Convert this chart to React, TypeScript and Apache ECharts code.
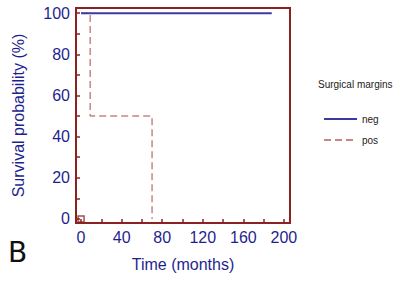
import React, { useEffect, useRef } from "react";
import * as echarts from "echarts";

const negTimes = [0, 188];
const negSurv = [100, 100];
const posTimes = [0, 9, 70];
const posSurv = [100, 50, 0];
const censorPoints = [[0, 0]];
const xLabels = [0, 40, 80, 120, 160, 200];
const xTicks = [0, 20, 40, 60, 80, 100, 120, 140, 160, 180, 200];
const yLabels = [0, 20, 40, 60, 80, 100];
const yTicks = [0, 10, 20, 30, 40, 50, 60, 70, 80, 90, 100];

const AXIS = "#8b2222";
const BLUE = "#1f1f8f";

export default function App() {
  const ref = useRef<HTMLDivElement>(null);
  useEffect(() => {
    const chart = echarts.init(ref.current!, null, { renderer: "svg" });
    chart.setOption({
      animation: false,
      backgroundColor: "#ffffff",
      textStyle: { fontFamily: "Liberation Sans, Arial, sans-serif" },
      grid: {
        left: 76,
        right: 103,
        top: 8,
        bottom: 59,
        show: true,
        borderColor: AXIS,
        borderWidth: 2,
        backgroundColor: "transparent",
      },
      legend: {
        orient: "vertical",
        left: 318,
        top: 109,
        itemWidth: 33,
        itemHeight: 8,
        itemGap: 11,
        data: ["neg", "pos"],
        itemStyle: { opacity: 0 },
        textStyle: { fontSize: 10, color: "#222", fontFamily: "Liberation Sans, Arial, sans-serif" },
      },
      xAxis: {
        type: "value",
        min: -5,
        max: 206,
        name: "Time (months)",
        nameLocation: "middle",
        nameGap: 33,
        nameTextStyle: { color: BLUE, fontSize: 16 },
        axisLine: { show: true, onZero: false, lineStyle: { color: AXIS, width: 2 } },
        axisTick: { show: true, inside: true, length: 4, customValues: xTicks, lineStyle: { color: AXIS, width: 1.5 } },
        axisLabel: { customValues: xLabels, color: BLUE, fontSize: 16, margin: 6 },
        splitLine: { show: false },
      },
      yAxis: {
        type: "value",
        min: -2,
        max: 102.5,
        name: "Survival probability (%)",
        nameLocation: "middle",
        nameGap: 50,
        nameTextStyle: { color: BLUE, fontSize: 16 },
        axisLine: { show: true, onZero: false, lineStyle: { color: AXIS, width: 2 } },
        axisTick: { show: true, inside: true, length: 4, customValues: yTicks, lineStyle: { color: AXIS, width: 1.5 } },
        axisLabel: { customValues: yLabels, color: BLUE, fontSize: 16, margin: 6 },
        splitLine: { show: false },
      },
      graphic: [
        {
          type: "text",
          left: 8,
          top: 238,
          style: { text: "B", fontSize: 28, fill: "#111", fontFamily: "DejaVu Sans, sans-serif" },
        },
        {
          type: "text",
          left: 318,
          top: 79,
          style: { text: "Surgical margins", fontSize: 10, fill: "#222", fontFamily: "Liberation Sans, Arial, sans-serif" },
        },
      ],
      series: [
        {
          name: "pos",
          type: "line",
          step: "end",
          data: posTimes.map((t, i) => [t, posSurv[i]]),
          symbol: "none",
          lineStyle: { color: "#c98585", width: 1.5, type: [7, 4] },
          itemStyle: { color: "#c98585" },
        },
        {
          name: "neg",
          type: "line",
          data: negTimes.map((t, i) => [t, negSurv[i]]),
          symbol: "none",
          lineStyle: { color: "#3a3aa0", width: 2 },
          itemStyle: { color: "#3a3aa0" },
        },
        {
          name: "censor",
          type: "scatter",
          data: censorPoints,
          symbol: "rect",
          symbolSize: 6,
          itemStyle: { color: "transparent", borderColor: AXIS, borderWidth: 1.5 },
        },
      ],
    });
    return () => chart.dispose();
  }, []);
  return <div ref={ref} style={{ width: 393, height: 282, position: "absolute", left: 0, top: 0 }} />;
}
